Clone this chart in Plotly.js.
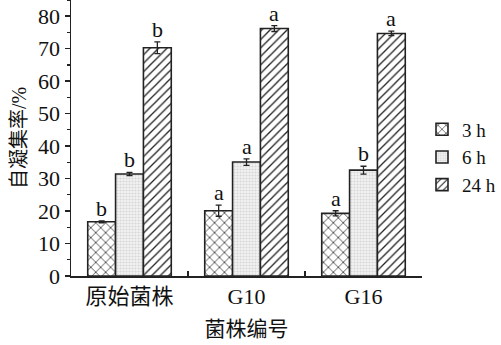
<!DOCTYPE html>
<html><head><meta charset="utf-8">
<script src="https://cdn.plot.ly/plotly-3.0.1.min.js"></script>
<style>body{margin:0;padding:0;background:#fff}#c{width:501px;height:345px}</style>
</head><body><div id="c"></div>
<script>
const categories = ["原始菌株", "G10", "G16"];
const seriesNames = ["3 h", "6 h", "24 h"];
const v3h = [16.7, 20.1, 19.3];
const v6h = [31.4, 35.1, 32.6];
const v24h = [70.3, 76.2, 74.7];
const e3h = [0.3, 1.7, 0.8];
const e6h = [0.5, 1.0, 1.2];
const e24h = [1.8, 0.9, 0.7];
const l3h = ["b", "a", "a"];
const l6h = ["b", "a", "b"];
const l24h = ["b", "a", "a"];

const font = "'Liberation Serif','Times New Roman','Noto Sans CJK SC',serif";
const vals = [v3h, v6h, v24h];
const errs = [e3h, e6h, e24h];
const lets = [l3h, l6h, l24h];
const patterns = [
  {shape: "x", fgcolor: "#222", bgcolor: "#fff", size: 7, solidity: 0.2},
  {shape: ".", fgcolor: "#d6d6d6", bgcolor: "#f3f3f3", size: 3, solidity: 0.4},
  {shape: "/", fgcolor: "#222", bgcolor: "#fff", size: 6, solidity: 0.22}
];
const traces = vals.map((v, i) => ({
  type: "bar", name: seriesNames[i], x: categories, y: v,
  marker: {color: "#fff", line: {color: "#222", width: 1.6}, pattern: patterns[i]},
  error_y: {type: "data", array: errs[i], visible: true, color: "#222", thickness: 1.3, width: 3}
}));
const bargap = 0.286;
const bw = (1 - bargap) / 3;
const annotations = [];
vals.forEach((v, i) => {
  v.forEach((y, j) => {
    annotations.push({x: j + (i - 1) * bw, y: y + errs[i][j], xref: "x", yref: "y",
      text: lets[i][j], showarrow: false, yanchor: "bottom", yshift: -2,
      font: {family: font, size: 22, color: "#111"}});
  });
});
const layout = {
  width: 501, height: 345,
  margin: {l: 71, r: 77, t: 0, b: 69},
  paper_bgcolor: "#fff", plot_bgcolor: "#fff",
  barmode: "group", bargap: bargap, bargroupgap: 0,
  font: {family: font, color: "#111"},
  xaxis: {
    type: "category", range: [-0.5, 2.5], tickson: "boundaries", ticks: "inside", ticklen: 5,
    tickwidth: 1.5, tickcolor: "#222", showline: true, linecolor: "#222", linewidth: 1.5,
    showgrid: false, zeroline: false, tickfont: {family: font, size: 22, color: "#111"},
    title: {text: "菌株编号", font: {family: font, size: 21, color: "#111"}, standoff: 13}
  },
  yaxis: {
    range: [0, 85], tickvals: [0,10,20,30,40,50,60,70,80], ticks: "outside", ticklen: 5,
    tickwidth: 1.5, tickcolor: "#222", showline: true, linecolor: "#222", linewidth: 1.5,
    minor: {dtick: 5, tick0: 5, ticks: "outside", ticklen: 3, tickwidth: 1.2, tickcolor: "#222"},
    showgrid: false, zeroline: false, tickfont: {family: font, size: 22, color: "#111"},
    title: {text: "自凝集率/%", font: {family: font, size: 20, color: "#111"}, standoff: 6}
  },
  legend: {x: 1.0, xanchor: "left", y: 0.6, yanchor: "top", font: {family: font, size: 19, color: "#111"},
    bgcolor: "rgba(0,0,0,0)", tracegroupgap: 0},
  annotations: annotations,
  showlegend: true
};
Plotly.newPlot("c", traces, layout, {staticPlot: true});
</script></body></html>
